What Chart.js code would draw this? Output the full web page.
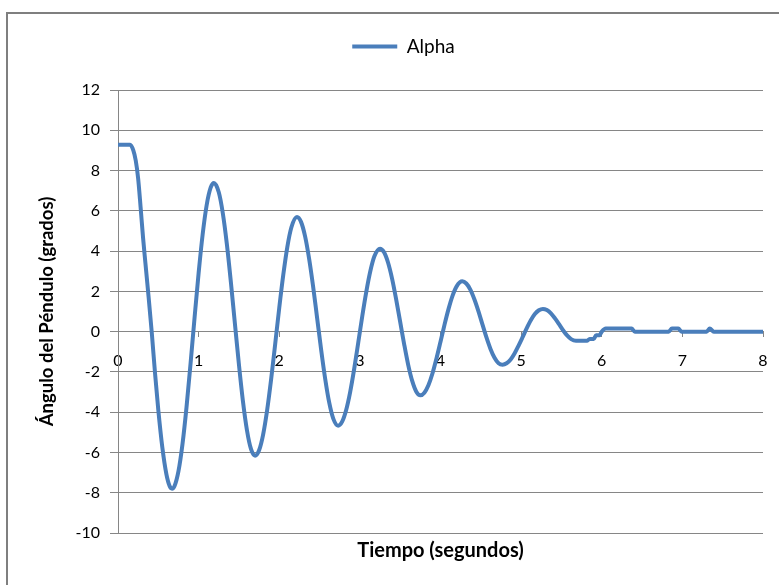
<!DOCTYPE html>
<html>
<head>
<meta charset="utf-8">
<script src="https://cdn.jsdelivr.net/npm/chart.js@4"></script>
<style>
  html, body { margin: 0; padding: 0; background: #ffffff; }
  #wrap { position: relative; width: 779px; height: 585px; }
</style>
</head>
<body>
<div id="wrap"><canvas id="c" width="779" height="585"></canvas></div>
<script>
// ---- data ----
const seriesName = 'Alpha';
const xTitle = 'Tiempo (segundos)';
const yTitle = 'Ángulo del Péndulo (grados)';
const time = [
  0.00, 0.15, 0.19, 0.22, 0.25, 0.28, 0.31, 0.34, 0.38, 0.42, 0.46, 0.50, 0.55, 0.60, 0.64, 0.67,
  0.70, 0.75, 0.80, 0.85, 0.90, 0.95, 1.00, 1.05, 1.10, 1.15, 1.19,
  1.25, 1.30, 1.35, 1.40, 1.45, 1.50, 1.55, 1.60, 1.65, 1.70,
  1.75, 1.80, 1.85, 1.90, 1.95, 2.00, 2.05, 2.10, 2.15, 2.22,
  2.27, 2.32, 2.37, 2.42, 2.47, 2.52, 2.57, 2.62, 2.67, 2.73,
  2.78, 2.83, 2.88, 2.93, 2.98, 3.03, 3.08, 3.13, 3.18, 3.25,
  3.30, 3.35, 3.40, 3.45, 3.50, 3.55, 3.60, 3.65, 3.70, 3.75,
  3.80, 3.85, 3.90, 3.95, 4.00, 4.05, 4.10, 4.15, 4.20, 4.27,
  4.32, 4.37, 4.42, 4.47, 4.52, 4.57, 4.62, 4.67, 4.72, 4.77,
  4.82, 4.87, 4.92, 4.97, 5.02, 5.07, 5.12, 5.17, 5.22, 5.27,
  5.32, 5.37, 5.42, 5.47, 5.52, 5.57, 5.62, 5.68, 5.75, 5.82,
  5.85, 5.90, 5.93, 5.97, 6.00, 6.05, 6.37, 6.41, 6.83, 6.87, 6.95, 6.99, 7.30, 7.34, 7.39, 8.00
];
const alpha = [
  9.28, 9.28, 9.0, 8.5, 7.6, 6.2, 4.7, 3.4, 1.7, -0.1, -2.1, -3.9, -5.76, -7.08, -7.67, -7.8,
  -7.68, -6.93, -5.58, -3.74, -1.58, 0.71, 2.91, 4.83, 6.29, 7.16, 7.38,
  6.92, 5.88, 4.35, 2.46, 0.40, -1.64, -3.47, -4.91, -5.84, -6.16,
  -5.89, -5.11, -3.89, -2.34, -0.60, 1.18, 2.82, 4.20, 5.17, 5.69,
  5.45, 4.74, 3.63, 2.24, 0.67, -0.91, -2.35, -3.53, -4.32, -4.67,
  -4.47, -3.89, -2.99, -1.84, -0.54, 0.78, 1.99, 3.01, 3.74, 4.12,
  3.94, 3.42, 2.62, 1.60, 0.48, -0.64, -1.66, -2.46, -2.98, -3.16,
  -3.03, -2.66, -2.08, -1.33, -0.50, 0.35, 1.13, 1.79, 2.25, 2.50,
  2.39, 2.09, 1.61, 1.02, 0.36, -0.29, -0.86, -1.30, -1.57, -1.64,
  -1.57, -1.38, -1.07, -0.68, -0.26, 0.17, 0.56, 0.87, 1.06, 1.13,
  1.07, 0.91, 0.66, 0.37, 0.07, -0.19, -0.37, -0.45, -0.45, -0.45,
  -0.36, -0.36, -0.18, -0.18, 0.0, 0.15, 0.15, 0.0, 0.0, 0.15, 0.15, 0.0, 0.0, 0.15, 0.0, 0.0
];
const xMin = 0, xMax = 8, xStep = 1;
const yMin = -10, yMax = 12, yStep = 2;

// ---- chart ----
const GRID = '#868686';
const LINE = '#4a7ebb';
const FONT = 'Lato, "DejaVu Sans", sans-serif';

const points = time.map((t, i) => ({ x: t, y: alpha[i] }));

const frame = {
  id: 'frame',
  beforeDraw(chart) {
    const ctx = chart.ctx;
    ctx.save();
    ctx.fillStyle = '#ffffff';
    ctx.fillRect(0, 0, chart.width, chart.height);
    ctx.strokeStyle = '#7f7f7f';
    ctx.lineWidth = 2;
    ctx.strokeRect(7, 13, chart.width + 20, chart.height + 20);
    ctx.restore();
  }
};

new Chart(document.getElementById('c'), {
  type: 'line',
  data: {
    datasets: [{
      label: seriesName,
      data: points,
      borderColor: LINE,
      backgroundColor: LINE,
      borderWidth: 4,
      pointRadius: 0,
      cubicInterpolationMode: 'monotone',
      xAxisID: 'x',
      yAxisID: 'y'
    }]
  },
  options: {
    responsive: false,
    animation: false,
    layout: { padding: { top: 27, left: 44, right: 16, bottom: 0 } },
    plugins: {
      legend: {
        position: 'top',
        labels: {
          usePointStyle: true,
          pointStyle: 'line',
          pointStyleWidth: 45,
          padding: 10,
          color: '#000',
          font: { family: FONT, size: 19 }
        }
      },
      tooltip: { enabled: false }
    },
    scales: {
      x: {
        type: 'linear', position: 'bottom', min: xMin, max: xMax,
        grid: { display: false }, border: { display: false },
        ticks: { display: false },
        title: {
          display: true, text: xTitle, color: '#000',
          font: { family: FONT, size: 20, weight: 'bold' },
          padding: { top: 0, bottom: 22 }
        },
        afterFit(s) { s.height = 52; }
      },
      xTop: {
        type: 'linear', axis: 'x', position: 'top', min: xMin, max: xMax, display: true,
        grid: { display: false }, border: { display: false },
        ticks: { display: false },
        afterFit(s) { s.height = 24; }
      },
      x2: {
        type: 'linear', axis: 'x', position: { y: 0 }, min: xMin, max: xMax,
        grid: { display: true, drawOnChartArea: false, drawTicks: true, tickLength: 5, color: GRID },
        border: { display: true, color: GRID, width: 1 },
        ticks: { stepSize: xStep, padding: 15, color: '#000', font: { family: FONT, size: 16 } },
        afterFit(s) { s.paddingLeft = 0; s.paddingRight = 0; }
      },
      y: {
        type: 'linear', position: 'left', min: yMin, max: yMax,
        grid: { color: GRID, lineWidth: 1, tickLength: 8 },
        border: { display: true, color: GRID, width: 1 },
        ticks: { stepSize: yStep, padding: 10, color: '#000', font: { family: FONT, size: 16 } },
        title: {
          display: true, text: yTitle, color: '#000',
          font: { family: FONT, size: 18.5, weight: 'bold' },
          padding: { top: -8, bottom: 0 }
        },
        afterFit(s) { s.width = 74; }
      }
    }
  },
  plugins: [frame]
});
</script>
</body>
</html>
